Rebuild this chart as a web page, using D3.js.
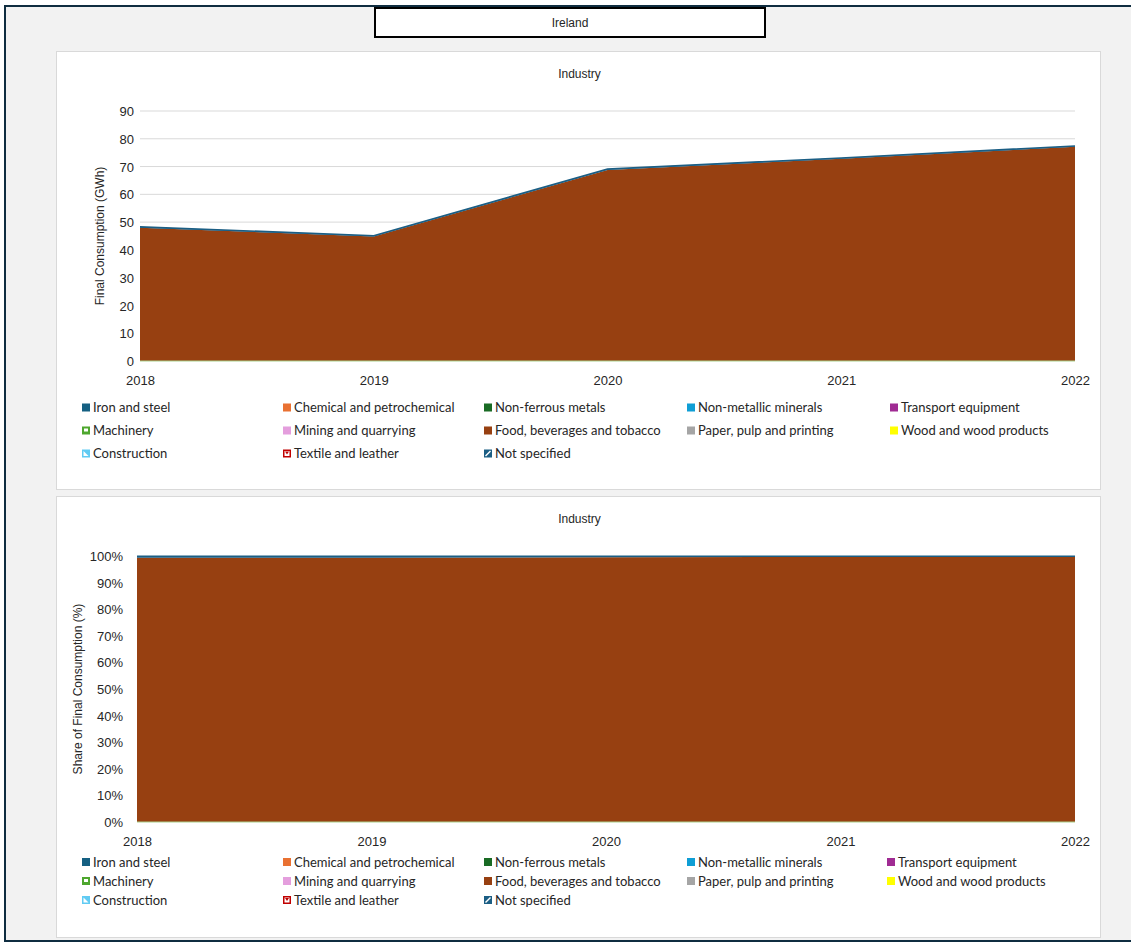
<!DOCTYPE html>
<html>
<head>
<meta charset="utf-8">
<script src="https://cdn.jsdelivr.net/npm/d3@7"></script>
<style>
  html, body { margin: 0; padding: 0; background: #ffffff; }
  svg { display: block; }
  text { font-family: "Liberation Sans", Arial, sans-serif; fill: #262626; }
  .leg text { font-family: Lato, "Noto Sans", sans-serif; }
</style>
</head>
<body>
<svg id="chart" width="1131" height="943"></svg>
<script>
// Ireland — industry final consumption by sub-sector (GWh)
const years = [2018, 2019, 2020, 2021, 2022];
const sectors = [
  "Iron and steel", "Chemical and petrochemical", "Non-ferrous metals",
  "Non-metallic minerals", "Transport equipment", "Machinery",
  "Mining and quarrying", "Food, beverages and tobacco", "Paper, pulp and printing",
  "Wood and wood products", "Construction", "Textile and leather", "Not specified"
];
const sectorColors = [
  "#156082", "#e97132", "#196b24", "#0f9ed5", "#a02b93", "#4ea72e",
  "#e49edd", "#974011", "#a5a5a5", "#ffff00", "#61cbf3", "#c00000", "#1b5e84"
];
// values per sector, one per year
const ironSteel   = [0, 0, 0, 0, 0];
const chemical    = [0, 0, 0, 0, 0];
const nonFerrous  = [0, 0, 0, 0, 0];
const nonMetallic = [0, 0, 0, 0, 0];
const transport   = [0, 0, 0, 0, 0];
const machinery   = [0, 0, 0, 0, 0];
const mining      = [0, 0, 0, 0, 0];
const food        = [48.0, 44.8, 68.8, 72.8, 77.1];
const paper       = [0, 0, 0, 0, 0];
const wood        = [0, 0, 0, 0, 0];
const construction= [0, 0, 0, 0, 0];
const textile     = [0, 0, 0, 0, 0];
const notSpecified= [0.3, 0.3, 0.3, 0.3, 0.3];
const seriesValues = [ironSteel, chemical, nonFerrous, nonMetallic, transport, machinery,
  mining, food, paper, wood, construction, textile, notSpecified];
const gwhTicks = [0, 10, 20, 30, 40, 50, 60, 70, 80, 90];
const shareTicks = [0, 0.1, 0.2, 0.3, 0.4, 0.5, 0.6, 0.7, 0.8, 0.9, 1.0];

const svg = d3.select("#chart");

// page frame
svg.append("rect").attr("x", 0).attr("y", 0).attr("width", 1131).attr("height", 943).attr("fill", "#ffffff");
svg.append("rect").attr("x", 5).attr("y", 6).attr("width", 1140).attr("height", 935)
  .attr("fill", "#f2f2f2").attr("stroke", "#0f2d40").attr("stroke-width", 2);

// country title box
svg.append("rect").attr("x", 375).attr("y", 8).attr("width", 390).attr("height", 29)
  .attr("fill", "#ffffff").attr("stroke", "#000000").attr("stroke-width", 2);
svg.append("text").attr("x", 570).attr("y", 26.5).attr("text-anchor", "middle")
  .attr("font-size", 12).text("Ireland");

// table of rows: one object per year with a field per sector
const table = years.map((y, i) => {
  const row = { year: y };
  sectors.forEach((s, k) => { row[s] = seriesValues[k][i]; });
  return row;
});
const totals = years.map((y, i) => d3.sum(seriesValues, v => v[i]));
const shareTable = table.map((row, i) => {
  const r = { year: row.year };
  sectors.forEach(s => { r[s] = totals[i] ? row[s] / totals[i] : 0; });
  return r;
});

const stack = d3.stack().keys(sectors);

function panel(cfg) {
  const g = svg.append("g");
  g.append("rect").attr("x", cfg.px).attr("y", cfg.py).attr("width", cfg.pw).attr("height", cfg.ph)
    .attr("fill", "#ffffff").attr("stroke", "#d9d9d9").attr("stroke-width", 1);
  g.append("text").attr("x", cfg.px + cfg.pw / 2 + 1).attr("y", cfg.py + 26).attr("text-anchor", "middle")
    .attr("font-size", 12).text("Industry");

  const x = d3.scalePoint().domain(years).range([cfg.x0, cfg.x1]);
  const y = d3.scaleLinear().domain(cfg.domain).range([cfg.y0, cfg.y1]);

  // gridlines
  if (cfg.grid) {
    g.append("g").selectAll("line").data(cfg.ticks.filter(t => t > 0)).join("line")
      .attr("x1", cfg.x0).attr("x2", cfg.x1)
      .attr("y1", d => y(d)).attr("y2", d => y(d))
      .attr("stroke", "#d9d9d9").attr("stroke-width", 1);
  }

  const series = stack(cfg.data);
  const area = d3.area().x(d => x(d.data.year)).y0(d => y(d[0])).y1(d => y(d[1]));
  g.append("g").selectAll("path").data(series).join("path")
    .attr("d", area)
    .attr("fill", (d, i) => sectorColors[i]);
  // outline the top of the stack
  const topLine = d3.line().x(d => x(d.data.year)).y(d => y(d[1]));
  g.append("path").datum(series[series.length - 1]).attr("d", topLine)
    .attr("fill", "none").attr("stroke", sectorColors[12]).attr("stroke-width", cfg.lineW);
  // baseline
  g.append("line").attr("x1", cfg.x0).attr("x2", cfg.x1).attr("y1", y(0)).attr("y2", y(0))
    .attr("stroke", "#a9d18e").attr("stroke-width", 1);

  // y axis
  const yAxis = d3.axisLeft(y).tickValues(cfg.ticks).tickSize(0).tickPadding(0).tickFormat(cfg.fmt);
  const ya = g.append("g").attr("transform", `translate(${cfg.labelX},0)`).call(yAxis);
  ya.select(".domain").remove();
  ya.selectAll("text").attr("font-size", 13).attr("fill", "#262626")
    .attr("font-family", '"Liberation Sans", Arial, sans-serif').attr("dy", "0.35em");

  // x axis
  const xAxis = d3.axisBottom(x).tickSize(0).tickPadding(0).tickFormat(d3.format("d"));
  const xa = g.append("g").attr("transform", `translate(0,${cfg.xLabelY})`).call(xAxis);
  xa.select(".domain").remove();
  xa.selectAll("text").attr("font-size", 13).attr("fill", "#262626")
    .attr("font-family", '"Liberation Sans", Arial, sans-serif').attr("dy", "0.35em");

  // y axis title
  g.append("text")
    .attr("transform", `translate(${cfg.titleX},${cfg.titleY}) rotate(-90)`)
    .attr("text-anchor", "middle").attr("font-size", 12).text(cfg.yTitle);

  // legend
  const leg = g.append("g").attr("class", "leg");
  sectors.forEach((s, k) => {
    const row = Math.floor(k / 5), col = k % 5;
    const lx = cfg.legCols[col], ly = cfg.legRows[row];
    const item = leg.append("g").attr("transform", `translate(${lx},${ly})`);
    drawMarker(item, k);
    item.append("text").attr("x", 11).attr("y", 0).attr("dy", "0.35em")
      .attr("font-size", 13).text(s);
  });
}

function drawMarker(item, k) {
  const c = sectorColors[k];
  const m = item.append("g").attr("transform", "translate(0,-4)");
  if (k === 5) { // machinery: framed square
    m.append("rect").attr("width", 8).attr("height", 8).attr("fill", c);
    m.append("rect").attr("x", 2).attr("y", 2).attr("width", 4).attr("height", 3).attr("fill", "#ffffff");
  } else if (k === 10) { // construction: diagonal split
    m.append("rect").attr("width", 8).attr("height", 8).attr("fill", c);
    m.append("path").attr("d", "M1.5,1.5 L6.5,6.5 L1.5,6.5 Z").attr("fill", "#ffffff");
  } else if (k === 11) { // textile: outlined with notch
    m.append("rect").attr("x", 0.75).attr("y", 0.75).attr("width", 6.5).attr("height", 6.5)
      .attr("fill", "#ffffff").attr("stroke", c).attr("stroke-width", 1.5);
    m.append("path").attr("d", "M2,2 L6,2 L4,5 Z").attr("fill", c);
  } else if (k === 12) { // not specified: diagonal stripe
    m.append("rect").attr("width", 8).attr("height", 8).attr("fill", c);
    m.append("path").attr("d", "M1.5,6.5 L6.5,1.5").attr("stroke", "#ffffff").attr("stroke-width", 1.4);
  } else {
    m.append("rect").attr("width", 8).attr("height", 8).attr("fill", c);
  }
}

panel({
  px: 56.5, py: 51.5, pw: 1044, ph: 438,
  x0: 140, x1: 1075, y0: 361, y1: 111,
  domain: [0, 90], ticks: gwhTicks, fmt: d3.format("d"), grid: true,
  data: table, labelX: 134, xLabelY: 380, lineW: 1.6,
  titleX: 104, titleY: 236, yTitle: "Final Consumption (GWh)",
  legCols: [82, 283, 484, 687, 890], legRows: [407.5, 430.5, 453.5]
});

panel({
  px: 56.5, py: 496.5, pw: 1044, ph: 441,
  x0: 137, x1: 1075, y0: 822, y1: 556,
  domain: [0, 1], ticks: shareTicks, fmt: d3.format(".0%"), grid: false,
  data: shareTable, labelX: 123, xLabelY: 841, lineW: 1.2,
  titleX: 82, titleY: 689, yTitle: "Share of Final Consumption (%)",
  legCols: [82, 283, 484, 687, 887], legRows: [862, 881, 900]
});
</script>
</body>
</html>
